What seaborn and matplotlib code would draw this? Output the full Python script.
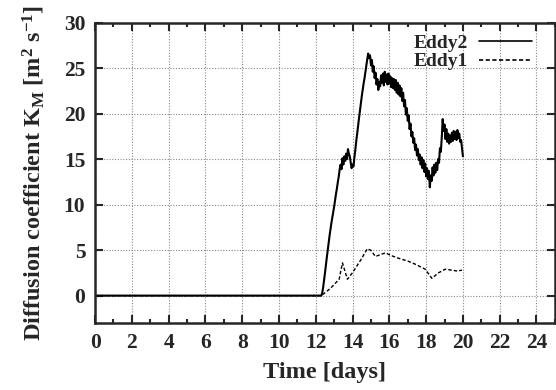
import numpy as np
import pandas as pd
import matplotlib
matplotlib.use("Agg")
import matplotlib.pyplot as plt
import seaborn as sns
from matplotlib.ticker import MultipleLocator

# Eddy2: diffusion coefficient sampled every 0.05 day from day 12.3 to 20.0
eddy2_start = 12.3
eddy2_step = 0.05
eddy2_values = [
    0.0, 0.3, 0.9, 1.7, 2.5, 3.4, 4.2, 5.0, 5.8, 6.6,
    7.3, 8.0, 8.6, 9.2, 9.8, 10.5, 11.2, 11.8, 12.5, 13.1,
    13.9, 14.4, 13.9, 15.1, 14.4, 15.3, 14.8, 15.6, 15.0, 16.1,
    15.6, 15.3, 14.6, 14.0, 14.4, 14.2, 15.2, 16.0, 17.0, 17.8,
    18.7, 19.5, 20.3, 21.1, 21.9, 22.6, 23.3, 23.9, 24.6, 25.3,
    26.0, 26.6, 26.1, 26.4, 25.3, 25.9, 24.6, 25.2, 23.9, 24.5,
    23.2, 23.8, 22.6, 23.5, 23.0, 24.2, 23.4, 24.4, 23.1, 24.6,
    23.5, 24.3, 23.2, 24.4, 23.3, 24.1, 22.9, 23.9, 22.8, 23.8,
    22.6, 23.7, 22.3, 23.4, 22.1, 23.1, 21.9, 22.8, 21.4, 22.3,
    20.8, 21.5, 19.9, 20.6, 19.2, 19.8, 18.3, 18.9, 17.5, 18.0,
    16.8, 17.3, 16.0, 16.6, 15.4, 16.1, 14.9, 15.5, 14.4, 15.2,
    14.0, 14.9, 13.6, 14.5, 13.1, 14.0, 12.8, 13.7, 11.9, 13.2,
    12.6, 14.1, 13.2, 14.4, 13.5, 14.6, 13.8, 15.0, 14.6, 16.2,
    15.8, 17.4, 19.4, 18.1, 18.8, 17.2, 18.3, 16.9, 17.8, 16.7,
    17.6, 16.9, 17.9, 17.0, 18.1, 17.2, 18.0, 17.1, 18.2, 17.3,
    17.8, 16.9, 17.1, 16.2, 15.3,
]

# Eddy1: smoother, lower curve
eddy1_days = [0.0, 12.3, 12.8, 13.27, 13.45, 13.72, 13.99, 14.44, 14.8,
              14.98, 15.25, 15.5, 15.79, 16.1, 16.51, 17.0, 17.41, 17.95,
              18.31, 18.67, 19.03, 19.39, 19.7, 19.95]
eddy1_values = [0.0, 0.0, 0.8, 1.8, 3.6, 1.8, 2.5, 3.9, 5.15,
                5.0, 4.3, 4.5, 4.7, 4.4, 4.1, 3.8, 3.45, 2.9,
                1.9, 2.5, 2.9, 2.8, 2.7, 2.8]

x_ticks = list(range(0, 25, 2))
y_ticks = list(range(0, 31, 5))

eddy2_days = [0.0] + [eddy2_start + eddy2_step * i for i in range(len(eddy2_values))]
eddy2_full = [0.0] + eddy2_values

df2 = pd.DataFrame({"day": eddy2_days, "K": eddy2_full})
df1 = pd.DataFrame({"day": eddy1_days, "K": eddy1_values})

sns.set_style("ticks")
plt.rcParams["font.family"] = ["Liberation Serif", "DejaVu Serif"]
plt.rcParams["font.weight"] = "bold"
plt.rcParams["mathtext.default"] = "regular"

fig = plt.figure(figsize=(5.56, 3.9), dpi=100)
ax = fig.add_axes([0.171, 0.172, 0.827, 0.770])

sns.lineplot(data=df2, x="day", y="K", ax=ax, color="black", lw=1.5,
             label="Eddy2", estimator=None, sort=False)
sns.lineplot(data=df1, x="day", y="K", ax=ax, color="black", lw=1.0,
             label="Eddy1", estimator=None, sort=False, dashes=False)
ax.lines[1].set_dashes([2.5, 1.5])

ax.set_xlim(0, 25)
ax.set_ylim(-3, 30)
ax.set_xticks(x_ticks)
ax.set_yticks(y_ticks)
ax.xaxis.set_minor_locator(MultipleLocator(1))

ax.grid(True, which="major", color="#888888", linestyle=(0, (1, 1.5)), linewidth=0.8)
ax.set_axisbelow(True)

ax.tick_params(axis="both", which="both", direction="in", top=True, right=True,
               labelsize=15.5, width=1.5, pad=7)
ax.tick_params(axis="both", which="major", length=6)
ax.tick_params(axis="both", which="minor", length=3)
for lab in ax.get_xticklabels() + ax.get_yticklabels():
    lab.set_fontweight("bold")
for sp in ax.spines.values():
    sp.set_linewidth(1.8)

ax.set_xlabel("Time [days]", fontsize=17.5, fontweight="bold", labelpad=7)
ax.set_ylabel("Diffusion coefficient K$_M$ [m$^2$ s$^{-1}$]", fontsize=17.5,
              fontweight="bold", labelpad=12)

leg = ax.legend(loc="upper right", bbox_to_anchor=(0.975, 1.0), frameon=False,
                markerfirst=False, handlelength=2.7, handletextpad=0.6,
                labelspacing=0.05, borderpad=0.1,
                prop={"family": "Liberation Serif", "weight": "bold", "size": 14})
for line in leg.get_lines():
    line.set_linewidth(1.2)

fig.savefig("out.png", dpi=100)
